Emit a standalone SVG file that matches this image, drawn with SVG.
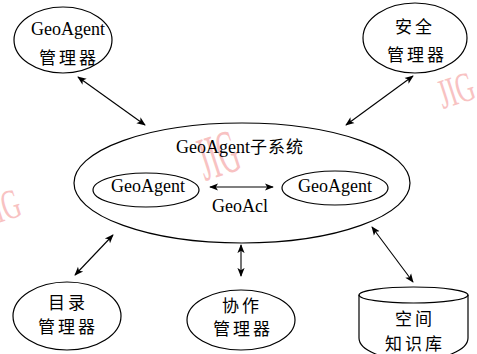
<svg xmlns="http://www.w3.org/2000/svg" width="477" height="354" viewBox="0 0 477 354">
  <style>
    .shape { fill: none; stroke: #000; stroke-width: 1.2; }
    .lat { font-family: "Liberation Serif", "Times New Roman", serif; font-size: 18px; fill: #000; }
    .cjk { font-family: "Noto Sans CJK SC", "Noto Sans CJK JP", sans-serif; font-size: 17px; fill: #000; letter-spacing: 3px; }
    .link { fill: none; stroke: #000; stroke-width: 1.1; marker-start: url(#tip); marker-end: url(#tip); }
    .mark { font-family: "Liberation Serif", serif; fill: #f8c2c2; }
  </style>
  <defs>
    <marker id="tip" viewBox="0 0 10 10" refX="9" refY="5" markerWidth="9" markerHeight="9" markerUnits="userSpaceOnUse" orient="auto-start-reverse">
      <path d="M0,1 L10,5 L0,9 L2.5,5 Z" fill="#000"/>
    </marker>
  </defs>
  <rect width="477" height="354" fill="#fff"/>

  <!-- background stamp -->
  <g id="stamp">
    <text class="mark" font-size="62" transform="translate(205,181) rotate(-18) scale(0.45,1)">JIG</text>
    <text class="mark" font-size="42" transform="translate(443,109) rotate(-18) scale(0.6,1)">JIG</text>
    <text class="mark" font-size="42" transform="translate(-11,226) rotate(-18) scale(0.6,1)">JIG</text>
  </g>

  <g id="connectors">
    <line class="link" x1="78" y1="77" x2="145" y2="125"/>
    <line class="link" x1="413" y1="76" x2="346" y2="125"/>
    <line class="link" x1="113" y1="235" x2="75" y2="275"/>
    <line class="link" x1="241" y1="245" x2="241" y2="276"/>
    <line class="link" x1="372" y1="227" x2="413" y2="282"/>
    <line class="link" x1="210" y1="187" x2="273" y2="187"/>
  </g>

  <g id="geoagent-manager">
    <ellipse class="shape" cx="63" cy="40" rx="49" ry="33"/>
    <text class="lat" x="68" y="35" text-anchor="middle">GeoAgent</text>
    <text class="cjk" x="69" y="64" text-anchor="middle">管理器</text>
  </g>

  <g id="security-manager">
    <ellipse class="shape" cx="415" cy="38" rx="52" ry="35"/>
    <text class="cjk" x="415" y="33" text-anchor="middle">安全</text>
    <text class="cjk" x="417" y="61" text-anchor="middle">管理器</text>
  </g>

  <g id="subsystem">
    <ellipse class="shape" cx="242" cy="183" rx="168" ry="60"/>
    <text class="lat" x="240" y="153" text-anchor="middle">GeoAgent<tspan class="cjk" style="letter-spacing:1px">子系统</tspan></text>
    <text class="lat" x="240" y="212" text-anchor="middle">GeoAcl</text>
  </g>

  <g id="agent-left">
    <ellipse class="shape" cx="146" cy="190" rx="53" ry="17"/>
    <text class="lat" x="148" y="192" text-anchor="middle">GeoAgent</text>
  </g>

  <g id="agent-right">
    <ellipse class="shape" cx="335" cy="188" rx="53" ry="17"/>
    <text class="lat" x="335" y="192" text-anchor="middle">GeoAgent</text>
  </g>

  <g id="directory-manager">
    <ellipse class="shape" cx="67" cy="316" rx="54" ry="34"/>
    <text class="cjk" x="68" y="309" text-anchor="middle">目录</text>
    <text class="cjk" x="68" y="333" text-anchor="middle">管理器</text>
  </g>

  <g id="cooperation-manager">
    <ellipse class="shape" cx="241" cy="320" rx="54" ry="30"/>
    <text class="cjk" x="242" y="312" text-anchor="middle">协作</text>
    <text class="cjk" x="243" y="335" text-anchor="middle">管理器</text>
  </g>

  <g id="spatial-knowledge-base">
    <path class="shape" d="M359,295 L359,338 A54,22 0 0 0 468,338 L468,295"/>
    <ellipse class="shape" cx="413.5" cy="295" rx="54.5" ry="8"/>
    <text class="cjk" x="415" y="325" text-anchor="middle">空间</text>
    <text class="cjk" x="415" y="350" text-anchor="middle">知识库</text>
  </g>
</svg>
